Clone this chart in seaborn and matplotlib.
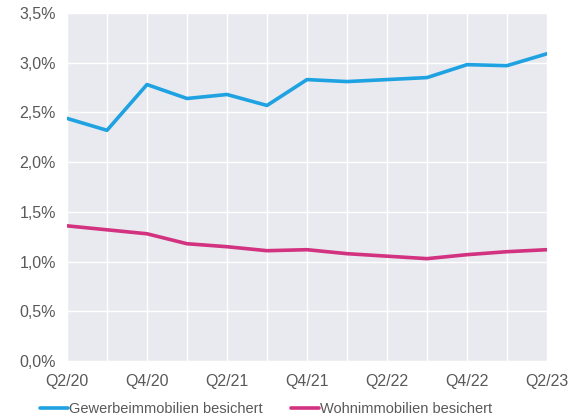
import numpy as np
import pandas as pd
import matplotlib
matplotlib.use("Agg")
import matplotlib.pyplot as plt
from matplotlib.ticker import FuncFormatter, MultipleLocator
import seaborn as sns

# =====================================
# DATA
# =====================================

quarters = ["Q2/20", "Q3/20", "Q4/20", "Q1/21", "Q2/21", "Q3/21", "Q4/21",
            "Q1/22", "Q2/22", "Q3/22", "Q4/22", "Q1/23", "Q2/23"]

gewerbe = [2.44, 2.32, 2.78, 2.64, 2.68, 2.57, 2.83,
           2.81, 2.83, 2.85, 2.98, 2.97, 3.09]

wohn = [1.36, 1.32, 1.28, 1.18, 1.15, 1.11, 1.12,
        1.08, 1.055, 1.03, 1.07, 1.10, 1.12]

series_names = ["Gewerbeimmobilien besichert", "Wohnimmobilien besichert"]
colors = ["#1FA2E1", "#D2327F"]

df = pd.DataFrame({
    "quarter": quarters * 2,
    "pos": list(range(len(quarters))) * 2,
    "value": gewerbe + wohn,
    "series": [series_names[0]] * len(quarters) + [series_names[1]] * len(quarters),
})

# =====================================
# PLOT
# =====================================

sns.set_theme(style="darkgrid", rc={
    "axes.facecolor": "#E8EAF0",
    "grid.color": "white",
    "grid.linewidth": 1.0,
})
plt.rcParams["font.family"] = ["Liberation Sans", "DejaVu Sans"]

fig = plt.figure(figsize=(5.71, 4.17), dpi=100)
ax = fig.add_axes([0.1173, 0.134, 0.8407, 0.835])

sns.lineplot(
    data=df,
    x="pos",
    y="value",
    hue="series",
    palette=colors,
    linewidth=2.6,
    ax=ax,
    legend=False,
)

ax.set_xlim(0, len(quarters) - 1)
ax.set_ylim(0, 3.5)
ax.yaxis.set_major_locator(MultipleLocator(0.5))
ax.yaxis.set_major_formatter(FuncFormatter(lambda v, p: f"{v:.1f}%".replace(".", ",")))

ax.set_xticks(range(len(quarters)))
ax.set_xticklabels([q if i % 2 == 0 else "" for i, q in enumerate(quarters)])

ax.tick_params(axis="both", labelsize=11.5, labelcolor="#595959", length=0)
ax.tick_params(axis="x", pad=9)
ax.tick_params(axis="y", pad=8)
ax.set_xlabel("")
ax.set_ylabel("")
for s in ax.spines.values():
    s.set_visible(False)

handles = [plt.Line2D([], [], color=c, linewidth=2.6) for c in colors]
fig.legend(
    handles,
    series_names,
    loc="lower left",
    bbox_to_anchor=(0.06, -0.012),
    ncol=2,
    frameon=False,
    fontsize=10.5,
    labelcolor="#595959",
    handlelength=1.9,
    handletextpad=0.05,
    columnspacing=2.0,
    borderaxespad=0,
)

fig.savefig("out.png", dpi=100)
plt.close()
